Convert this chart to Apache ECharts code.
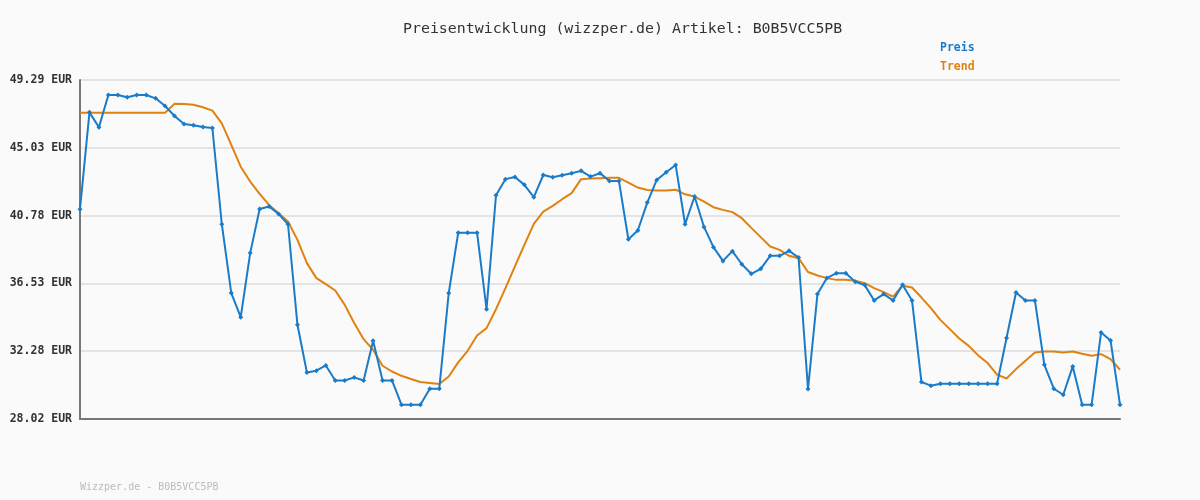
<!DOCTYPE html>
<html>
<head>
<meta charset="utf-8">
<script src="https://cdn.jsdelivr.net/npm/echarts@6/dist/echarts.min.js"></script>
<style>
html,body{margin:0;padding:0;background:#fafafa;}
#chart{width:1200px;height:500px;}
</style>
</head>
<body>
<div id="chart"></div>
<script>
const titleText = 'Preisentwicklung (wizzper.de) Artikel: B0B5VCC5PB';
const footerText = 'Wizzper.de - B0B5VCC5PB';
const seriesNames = ['Preis', 'Trend'];
const yTickLabels = ['28.02 EUR', '32.28 EUR', '36.53 EUR', '40.78 EUR', '45.03 EUR', '49.29 EUR'];
const yMin = 28.02;
const yMax = 49.29;

const preis = [
  41.18, 47.26, 46.32, 48.35, 48.35, 48.21, 48.35, 48.35, 48.14, 47.66,
  47.03, 46.53, 46.45, 46.34, 46.28, 40.24, 35.92, 34.41, 38.43, 41.20,
  41.35, 40.89, 40.24, 33.93, 30.94, 31.05, 31.38, 30.44, 30.44, 30.63,
  30.44, 32.93, 30.44, 30.44, 28.92, 28.92, 28.92, 29.92, 29.92, 35.92,
  39.70, 39.70, 39.70, 34.91, 42.06, 43.07, 43.21, 42.71, 41.94, 43.33,
  43.19, 43.32, 43.44, 43.59, 43.23, 43.44, 42.96, 42.96, 39.30, 39.85,
  41.60, 43.02, 43.50, 43.96, 40.24, 41.98, 40.07, 38.80, 37.94, 38.55,
  37.73, 37.13, 37.44, 38.26, 38.26, 38.57, 38.15, 29.90, 35.86, 36.86,
  37.17, 37.17, 36.63, 36.42, 35.46, 35.86, 35.46, 36.44, 35.46, 30.34,
  30.11, 30.23, 30.23, 30.23, 30.23, 30.23, 30.23, 30.23, 33.10, 35.96,
  35.46, 35.46, 31.42, 29.92, 29.54, 31.32, 28.92, 28.92, 33.45, 32.95,
  28.92
];

const trend = [
  47.24, 47.24, 47.24, 47.24, 47.24, 47.24, 47.24, 47.24, 47.24, 47.24,
  47.80, 47.78, 47.74, 47.58, 47.37, 46.57, 45.22, 43.85, 42.92, 42.14,
  41.45, 40.93, 40.41, 39.26, 37.80, 36.86, 36.48, 36.08, 35.18, 34.04,
  33.03, 32.36, 31.36, 31.00, 30.73, 30.53, 30.34, 30.28, 30.21, 30.69,
  31.57, 32.30, 33.26, 33.72, 34.91, 36.23, 37.59, 38.95, 40.26, 41.03,
  41.39, 41.81, 42.19, 43.07, 43.11, 43.13, 43.15, 43.15, 42.85, 42.54,
  42.39, 42.35, 42.35, 42.41, 42.12, 41.98, 41.66, 41.31, 41.14, 41.00,
  40.62, 40.01, 39.43, 38.84, 38.63, 38.26, 38.11, 37.24, 37.02, 36.86,
  36.75, 36.75, 36.69, 36.54, 36.23, 35.98, 35.70, 36.38, 36.27, 35.64,
  34.98, 34.24, 33.66, 33.07, 32.61, 32.01, 31.53, 30.80, 30.56, 31.15,
  31.68, 32.19, 32.26, 32.26, 32.19, 32.26, 32.11, 31.99, 32.09, 31.78,
  31.11
];

const categories = preis.map((_, i) => String(i + 1));

const blue = '#1a7bc9';
const orange = '#e0820f';
const mono = '"DejaVu Sans Mono", "Liberation Mono", monospace';

const chart = echarts.init(document.getElementById('chart'), null, {renderer: 'canvas'});
chart.setOption({
  backgroundColor: '#fafafa',
  animation: false,
  title: {
    text: titleText,
    left: 398,
    top: 17,
    textStyle: {fontFamily: mono, fontSize: 14.9, fontWeight: 'normal', color: '#333'}
  },
  legend: {
    orient: 'vertical',
    left: 930,
    top: 37,
    icon: 'none',
    itemWidth: 0,
    itemHeight: 10,
    itemGap: 7,
    selectedMode: false,
    textStyle: {fontFamily: mono, fontSize: 11.5, fontWeight: 'bold'},
    data: [
      {name: seriesNames[0], textStyle: {color: blue}},
      {name: seriesNames[1], textStyle: {color: orange}}
    ]
  },
  graphic: [{
    type: 'text',
    left: 80,
    top: 482,
    style: {text: footerText, fill: '#bbbbbb', font: '10px ' + mono}
  }],
  grid: {left: 80, right: 80, top: 80, bottom: 81, containLabel: false},
  xAxis: {
    type: 'category',
    data: categories,
    boundaryGap: false,
    axisLine: {lineStyle: {color: '#777', width: 2}},
    axisTick: {show: false},
    axisLabel: {show: false},
    splitLine: {show: false}
  },
  yAxis: {
    type: 'value',
    min: yMin,
    max: yMax,
    interval: (yMax - yMin) / 5,
    axisLine: {show: true, lineStyle: {color: '#777', width: 2}},
    axisTick: {show: false},
    axisLabel: {
      margin: 8,
      fontFamily: mono,
      fontSize: 11.5,
      fontWeight: 'bold',
      color: '#333',
      formatter: (v, idx) => yTickLabels[idx]
    },
    splitLine: {lineStyle: {color: '#e4e4e4', width: 2}}
  },
  series: [
    {
      name: seriesNames[1],
      type: 'line',
      data: trend,
      symbol: 'none',
      lineStyle: {color: orange, width: 2},
      itemStyle: {color: orange},
      z: 2
    },
    {
      name: seriesNames[0],
      type: 'line',
      data: preis,
      symbol: 'diamond',
      symbolSize: 5,
      showSymbol: true,
      lineStyle: {color: blue, width: 2},
      itemStyle: {color: blue},
      z: 3
    }
  ]
});
</script>
</body>
</html>
